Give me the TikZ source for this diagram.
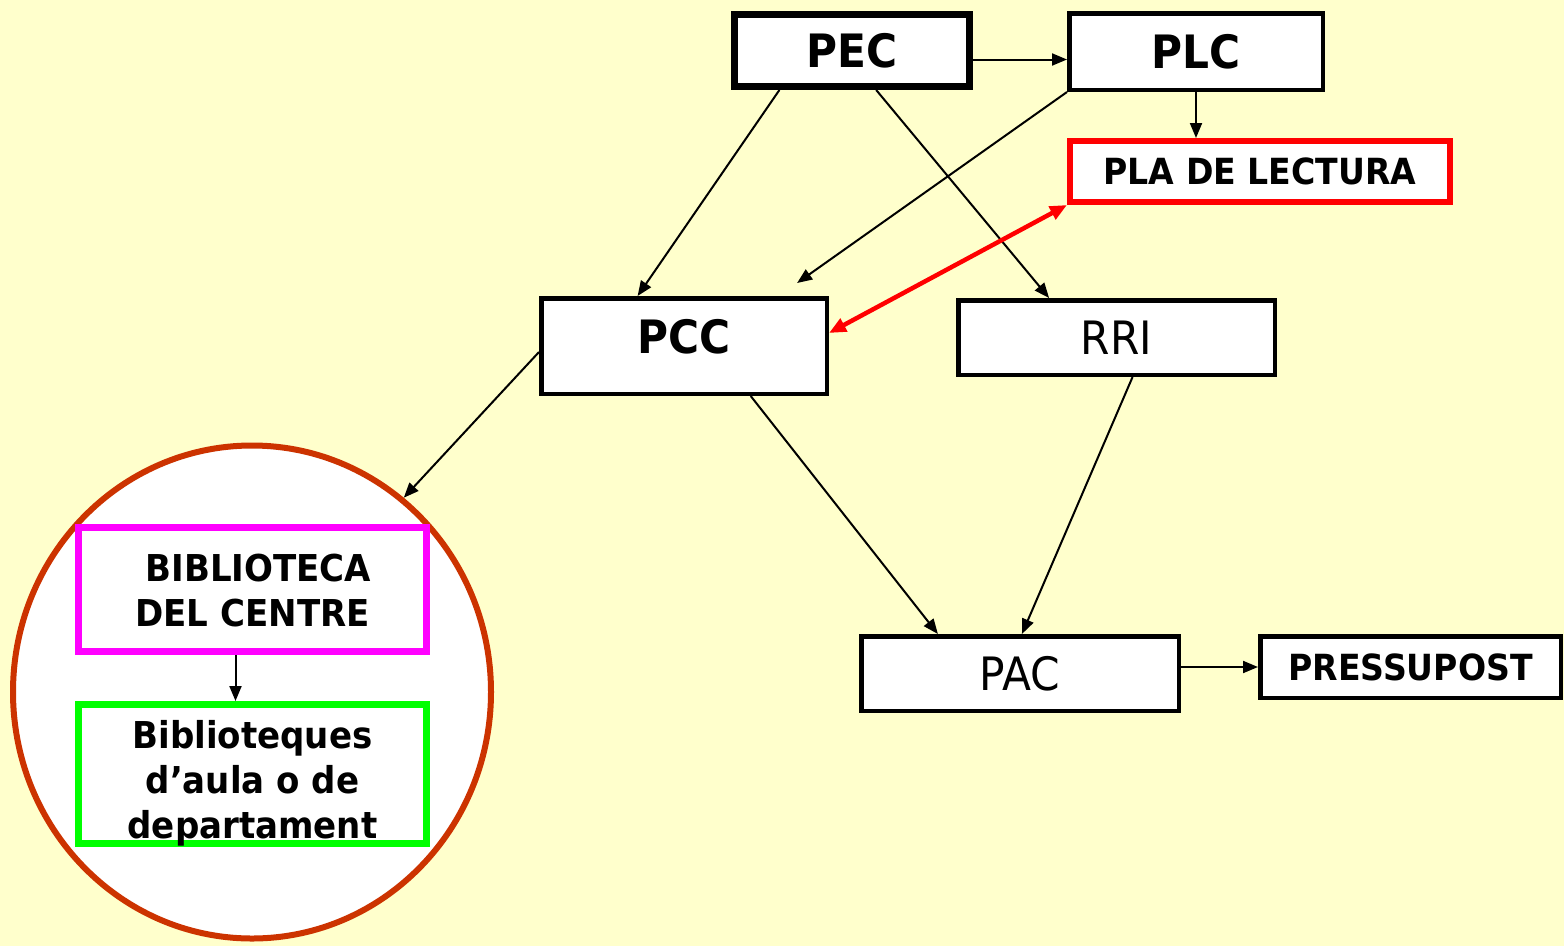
\documentclass[tikz,border=0pt]{standalone}
\usepackage{fontspec}
\newfontfamily\vf{DejaVu Sans}[FakeStretch=0.92]
\usetikzlibrary{arrows.meta,calc,shapes.geometric}
\definecolor{bg}{RGB}{255,255,204}
\definecolor{circcol}{RGB}{204,51,0}
\definecolor{magentab}{RGB}{255,0,255}
\definecolor{greenb}{RGB}{0,255,0}
\definecolor{redb}{RGB}{255,0,0}
\begin{document}
\begin{tikzpicture}[x=1pt,y=-1pt,
 box/.style={draw=black,fill=white,line width=4.5pt,inner sep=0pt},
 big/.style={font=\vf\bfseries\fontsize{46}{54}\selectfont},
 reg/.style={font=\vf\fontsize{46}{55}\selectfont},
 small/.style={font=\vf\bfseries\fontsize{36}{45}\selectfont},
 circtext/.style={font=\vf\bfseries\fontsize{37}{45}\selectfont,align=center},
 arr/.style={-{Triangle[length=15pt,width=12pt]},line width=2pt},
 redarr/.style={{Triangle[length=17pt,width=14pt]}-{Triangle[length=17pt,width=14pt]},line width=4.5pt,draw=redb},
]
\fill[bg] (0,0) rectangle (1564,946);
\useasboundingbox (0,0) rectangle (1564,946);

\node[box,big,line width=7pt,minimum width=235pt,minimum height=72pt] (pec) at (852,50.5) {PEC};
\node[box,big,minimum width=253.5pt,minimum height=76.5pt] (plc) at (1196,51.5) {PLC};
\node[box,small,draw=redb,line width=6pt,minimum width=380pt,minimum height=61pt] (pla) at (1260,171.5) {PLA DE LECTURA};
\node[box,minimum width=285.5pt,minimum height=95.5pt,
  label={[big,yshift=9pt]center:PCC}] (pcc) at (684,346) {};
\node[box,reg,minimum width=316.5pt,minimum height=74.5pt] (rri) at (1116.5,337.5) {RRI};
\node[box,reg,minimum width=317.5pt,minimum height=74.5pt] (pac) at (1020,673.5) {PAC};
\node[box,small,minimum width=300.5pt,minimum height=61.5pt] (press) at (1410.5,667) {PRESSUPOST};

\node[ellipse,draw=circcol,fill=white,line width=6pt,inner sep=0pt,minimum width=478pt,minimum height=493pt] (circ) at (252,692) {};
\node[box,draw=magentab,line width=7pt,minimum width=348pt,minimum height=124pt,
  label={[circtext,yshift=-1pt]center:{\ BIBLIOTECA\\DEL CENTRE}}] (bib) at (252.5,589.5) {};
\node[box,draw=greenb,line width=7pt,minimum width=348pt,minimum height=139pt,
  label={[circtext,yshift=-9pt]center:{Biblioteques\\d’aula o de\\departament}}] (bibq) at (252.5,774) {};

\draw[arr] ($(pec.east)+(0,9)$) -- ($(plc.west)+(0,8)$);
\draw[arr] (plc.south) -- (plc.south |- pla.north);
\draw[arr] ($(pec.south west)!0.2!(pec.south east)$) -- ($(pcc.north west)!0.34!(pcc.north east)$);
\draw[arr] ($(pec.south west)!0.6!(pec.south east)$) -- ($(rri.north west)!0.29!(rri.north east)$);
\draw[arr] (plc.south west) -- ($(pcc.north west)!0.89!(pcc.north east)+(0,-13)$);
\draw[redarr] (pla.south west) -- ($(pcc.east)+(0,-13)$);
\draw[arr] ($(pcc.west)+(0,6)$) -- (circ.52);
\draw[arr] ($(pcc.south west)!0.73!(pcc.south east)$) -- ($(pac.north west)!0.245!(pac.north east)$);
\draw[arr] ($(rri.south west)!0.55!(rri.south east)$) -- ($(pac.north west)!0.506!(pac.north east)$);
\draw[arr] (press.west -| pac.east) -- (press.west);
\draw[arr] ($(bib.south)+(-17,0)$) -- ($(bibq.north)+(-17,0)$);
\end{tikzpicture}
\end{document}
